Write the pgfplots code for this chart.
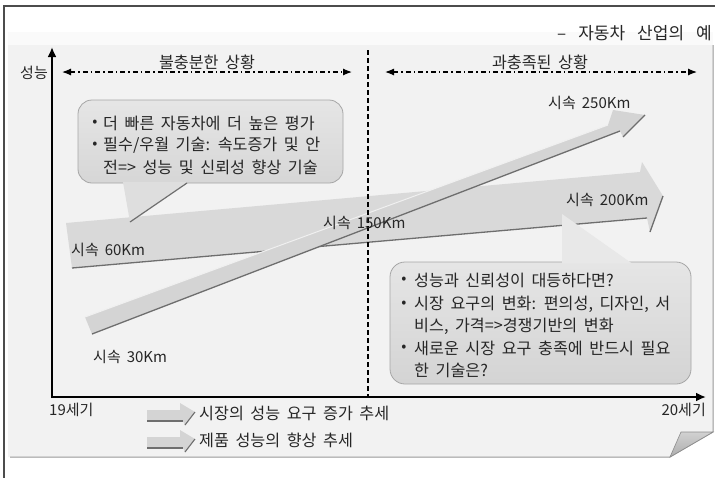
\documentclass[border=0pt]{standalone}
\usepackage{pgfplots}
\pgfplotsset{compat=1.18}
\usepackage{fontspec}
\setmainfont{Noto Sans CJK KR}[WordSpace=1.8]
\usetikzlibrary{arrows.meta}
\definecolor{ink}{HTML}{262626}
\definecolor{edge}{HTML}{6E6E6E}
\newcommand\fs{\fontsize{16.2}{19}\selectfont}
\newcommand\fl{\fontsize{15}{18}\selectfont}
\tikzset{lbl/.style={font=\fs, text=ink, inner sep=0pt, anchor=west},
         spd/.style={font=\fl, text=ink, inner sep=0pt, anchor=west},
         dot/.style={font=\fl, text=ink, inner sep=0pt, anchor=center}}
\begin{document}
\begin{tikzpicture}
\begin{axis}[x=1pt, y=1pt, xmin=0, xmax=715, ymin=0, ymax=477, y dir=reverse,
  hide axis, clip=true]
% page background and sheet
\addplot[fill=white, draw=none] coordinates {(0,0) (715,0) (715,477) (0,477)} --cycle;
\addplot[fill=black!2, draw=none] coordinates {(8,32) (713,32) (713,45) (8,45)} --cycle;
\addplot[fill=black!5, draw=none] coordinates {(8,45) (713,45) (713,432) (670,457) (8,457)} --cycle;
\addplot[draw=black!40, line width=1pt] coordinates {(713,45) (713,432) (670,457) (10,457)};
\addplot[top color=black!18, bottom color=black!32, draw=black!45, line width=0.6pt] coordinates {(670,457) (681,432) (713,432)} --cycle;
\addplot[draw=black!70, line width=2pt] coordinates {(4,480) (4,6) (720,6)};

% trend arrow: market demand (60Km -> 200Km)
\addplot[fill=black!15, draw=none] coordinates {(66,223) (640,172) (642,162) (663,196) (650,232) (647,218) (72,268)} --cycle;
\addplot[draw=edge, line width=1.3pt] coordinates {(72,268) (647,218)};
\addplot[draw=edge, line width=1.3pt] coordinates {(650,232) (663,196)};

% trend arrow: product performance (30Km -> 250Km)
\addplot[fill=black!17, draw=none] coordinates {(85,317) (608,125) (613,110) (645,115) (623,137) (620,131) (92,334)} --cycle;
\addplot[draw=black!6, line width=1pt] coordinates {(85,317) (608,125)};
\addplot[draw=edge, line width=1.3pt] coordinates {(92,334) (620,131)};
\addplot[draw=edge, line width=1.3pt] coordinates {(623,137) (645,115)};

% callout 1
\addplot[rounded corners=14pt, top color=black!10, bottom color=black!16, draw=black!35, line width=0.8pt]
  coordinates {(200,100) (343,100) (343,183) (78,183) (78,100)} --cycle;
\addplot[fill=black!13, draw=none] coordinates {(123,182) (187,182) (130,222)} --cycle;
\addplot[draw=edge, line width=1.2pt] coordinates {(187,183) (130,222)};

% callout 2
\addplot[rounded corners=15pt, top color=black!10, bottom color=black!17, draw=black!35, line width=0.8pt]
  coordinates {(540,262) (691,262) (691,384) (390,384) (390,262)} --cycle;
\addplot[fill=black!9, draw=none] coordinates {(562,214) (562,263.5) (632,263.5)} --cycle;

% era divider
\addplot[black, line width=1.3pt, dash pattern=on 5pt off 3pt] coordinates {(368,50) (368,397)};
\addplot[black, line width=1.2pt, dash pattern=on 5pt off 3pt on 1.5pt off 3pt,
  {Latex[length=9pt,width=7pt]}-{Latex[length=9pt,width=7pt]}] coordinates {(62,72) (352,72)};
\addplot[black, line width=1.2pt, dash pattern=on 5pt off 3pt on 1.5pt off 3pt,
  {Latex[length=9pt,width=7pt]}-{Latex[length=9pt,width=7pt]}] coordinates {(385,72) (697,72)};

% axes
\addplot[black, line width=2pt, -{Latex[length=10pt,width=9pt]}] coordinates {(52,398) (52,47)};
\addplot[black, line width=2pt, -{Latex[length=10pt,width=9pt]}] coordinates {(51,397) (706,397)};

% legend glyphs
\addplot[fill=black!17, draw=none] coordinates {(147,410) (180,410) (180,403) (195,412) (185,425) (183,421) (147,421)} --cycle;
\addplot[draw=edge, line width=1.1pt] coordinates {(147,421) (183,421)};
\addplot[draw=edge, line width=1.1pt] coordinates {(185,425) (195,412)};
\addplot[fill=black!17, draw=none] coordinates {(147,437) (180,437) (180,430) (195,439) (185,452) (183,448) (147,448)} --cycle;
\addplot[draw=edge, line width=1.1pt] coordinates {(147,448) (183,448)};
\addplot[draw=edge, line width=1.1pt] coordinates {(185,452) (195,439)};

% text
\node[lbl, font=\fontsize{17}{20}\selectfont, anchor=east] at (axis cs:712,33)
  {–\hspace{12pt}자동차\hspace{12pt}산업의\hspace{12pt}예};
\node[spd, anchor=east] at (axis cs:48,73) {성능};
\node[lbl, anchor=center] at (axis cs:207,62) {불충분한 상황};
\node[lbl, anchor=center] at (axis cs:540,62) {과충족된 상황};
\node[spd] at (axis cs:49,410) {19세기};
\node[spd, anchor=east] at (axis cs:706,410) {20세기};

\node[dot] at (axis cs:95,123) {•};
\node[lbl] at (axis cs:103,123) {더 빠른 자동차에 더 높은 평가};
\node[dot] at (axis cs:95,145) {•};
\node[lbl] at (axis cs:103,145) {필수/우월 기술: 속도증가 및 안};
\node[lbl] at (axis cs:103,167) {전=> 성능 및 신뢰성 향상 기술};

\node[dot] at (axis cs:404,280) {•};
\node[lbl] at (axis cs:414,280) {성능과 신뢰성이 대등하다면?};
\node[dot] at (axis cs:404,304) {•};
\node[lbl] at (axis cs:414,304) {시장 요구의 변화: 편의성, 디자인, 서};
\node[lbl] at (axis cs:414,326) {비스, 가격=>경쟁기반의 변화};
\node[dot] at (axis cs:404,348) {•};
\node[lbl] at (axis cs:414,348) {새로운 시장 요구 충족에 반드시 필요};
\node[lbl] at (axis cs:414,370) {한 기술은?};

\node[spd] at (axis cs:548,103) {시속 250Km};
\node[spd] at (axis cs:566,200) {시속 200Km};
\node[spd] at (axis cs:323,223) {시속 150Km};
\node[spd] at (axis cs:71,250) {시속 60Km};
\node[spd] at (axis cs:93,357) {시속 30Km};

\node[lbl] at (axis cs:199,413) {시장의 성능 요구 증가 추세};
\node[lbl] at (axis cs:199,440) {제품 성능의 향상 추세};
\end{axis}
\end{tikzpicture}
\end{document}
